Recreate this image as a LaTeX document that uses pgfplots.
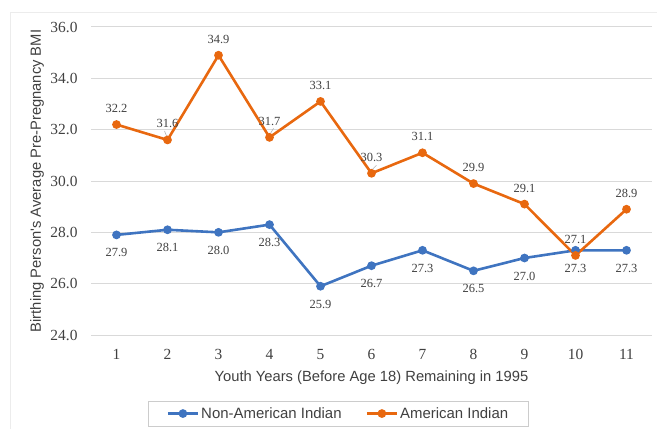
\documentclass[border=0pt]{standalone}
\usepackage{fontspec}
\setmainfont{Liberation Serif}
\newfontfamily\arialf{Liberation Sans}
\usepackage{pgfplots}
\pgfplotsset{compat=1.18}
\definecolor{cblue}{HTML}{3F74C0}
\definecolor{corange}{HTML}{E8680F}
\definecolor{lblgray}{HTML}{404040}
\begin{document}
\begin{tikzpicture}[x=1bp,y=1bp]
\useasboundingbox (0,0) rectangle (657,429);
\draw[gray!15, line width=1bp] (10.5,0) -- (10.5,416.5) -- (657,416.5);
\begin{axis}[
  at={(91bp,94bp)}, anchor=south west,
  scale only axis, width=561bp, height=308bp,
  xmin=0.5, xmax=11.5, ymin=24, ymax=36,
  xtick={1,...,11}, ytick={24,26,...,36},
  axis line style={draw=none}, major tick length=0pt,
  ymajorgrids, grid style={draw=gray!30, line width=1bp},
  /pgf/number format/assume math mode=true,
  ticklabel style={font=\fontsize{15.5}{18}\selectfont, text=lblgray},
  xticklabel style={yshift=-11bp},
  yticklabel style={xshift=-10bp, /pgf/number format/fixed, /pgf/number format/fixed zerofill, /pgf/number format/precision=1},
  xlabel={Youth Years (Before Age 18) Remaining in 1995},
  ylabel={Birthing Person's Average Pre-Pregnancy BMI},
  label style={font=\arialf\fontsize{14.8}{18}\selectfont, text=lblgray},
  xlabel style={at={(axis description cs:0.5,-0.14)}, anchor=center},
  ylabel style={at={(axis description cs:-0.0963,0.5)}, anchor=center},
  legend style={at={(axis description cs:0.441,-0.255)}, anchor=center,
    draw=gray!40, font=\arialf\fontsize{15}{18}\selectfont, text=lblgray,
    legend columns=2, inner xsep=18bp, inner ysep=4bp,
    /tikz/every even column/.append style={column sep=22bp}},
  legend image code/.code={\draw[mark repeat=2,mark phase=2,#1] plot coordinates {(0bp,0bp) (15bp,0bp) (30bp,0bp)};},
  nodes near coords={\pgfmathprintnumber[fixed,fixed zerofill,precision=1]{\pgfplotspointmeta}},
  nodes near coords style={font=\fontsize{12.5}{15}\selectfont, text=lblgray, anchor=center},
]
\addplot[cblue, line width=2.6bp, mark=*, mark size=3bp, mark options={solid},
  every node near coord/.append style={yshift=-18bp}]
  coordinates {(1,27.9) (2,28.1) (3,28.0) (4,28.3) (5,25.9) (6,26.7) (7,27.3) (8,26.5) (9,27.0) (10,27.3) (11,27.3)};
\addlegendentry{Non-American Indian}
\addplot[corange, line width=2.6bp, mark=*, mark size=3bp, mark options={solid},
  every node near coord/.append style={yshift=16bp}]
  coordinates {(1,32.2) (2,31.6) (3,34.9) (4,31.7) (5,33.1) (6,30.3) (7,31.1) (8,29.9) (9,29.1) (10,27.1) (11,28.9)};
\addlegendentry{American Indian}
\draw[gray!60, line width=0.6bp] (axis cs:2,31.6) ++(-1bp,4bp) -- ++(-2bp,5bp);
\draw[gray!60, line width=0.6bp] (axis cs:4,31.7) ++(1bp,4bp) -- ++(3bp,5bp);
\draw[gray!60, line width=0.6bp] (axis cs:6,30.3) ++(1bp,4bp) -- ++(4bp,4bp);
\end{axis}
\end{tikzpicture}
\end{document}
